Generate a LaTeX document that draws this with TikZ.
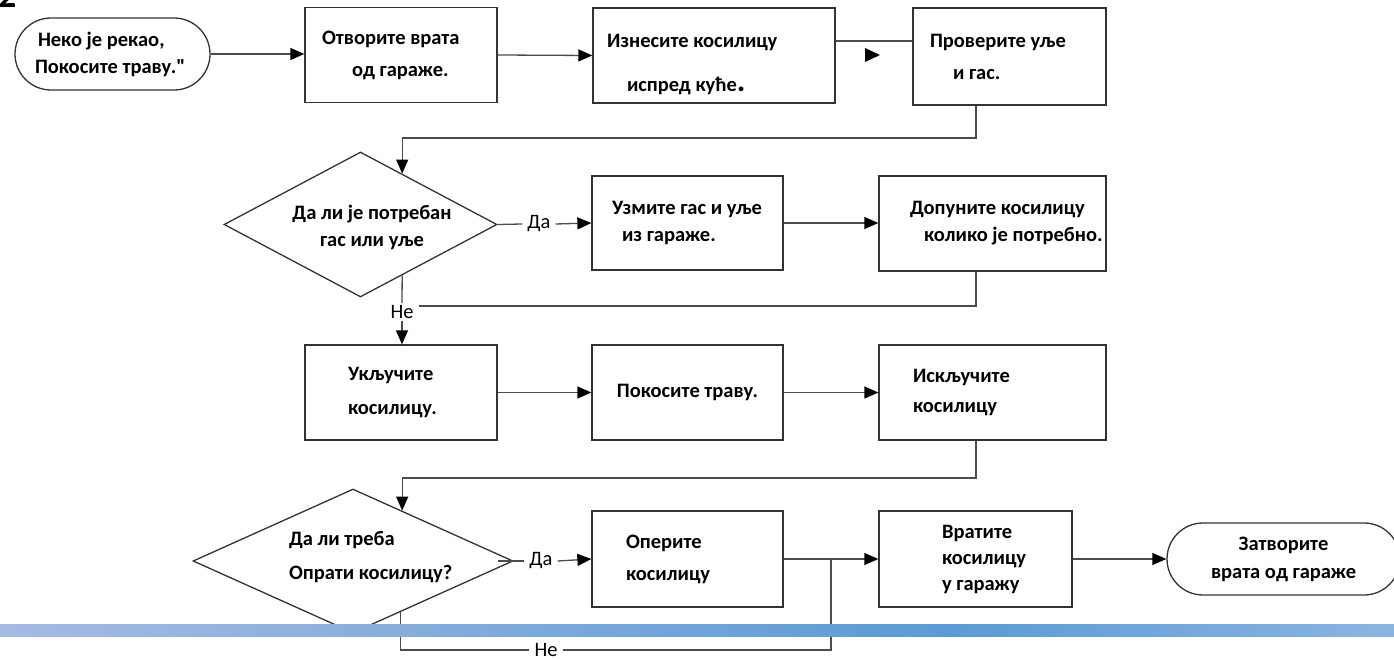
\documentclass[tikz,border=0pt]{standalone}
\usepackage{fontspec}
\setmainfont{Carlito}
\usepackage{tikz}
\usetikzlibrary{arrows.meta,shapes.geometric,calc,positioning}
\definecolor{barL}{RGB}{166,187,226}
\definecolor{barM}{RGB}{91,155,213}
\definecolor{barR}{RGB}{140,180,225}

\begin{document}
\begin{tikzpicture}[x=1pt,y=-1pt,
  font=\fontsize{20.5}{27}\selectfont,
  korak/.style={rectangle, draw=black!80, line width=1.3pt, minimum height=95pt, inner sep=0pt,
    font=\fontsize{20.5}{27}\selectfont\bfseries, align=flush left},
  kraj/.style={rectangle, rounded corners=36pt, draw=black!80, line width=1.3pt, minimum height=72pt,
    inner sep=0pt, font=\fontsize{20.5}{27}\selectfont\bfseries, align=center},
  odluka/.style={diamond, draw=black!80, line width=1.3pt, inner sep=0pt},
  natpis/.style={font=\fontsize{20.5}{27}\selectfont\bfseries, inner sep=0pt},
  oznaka/.style={font=\fontsize{20.5}{24}\selectfont, inner xsep=5pt, inner ysep=2pt},
  veza/.style={draw=black!70, line width=1.3pt},
  strel/.style={veza, -{Triangle[length=14pt,width=12pt,color=black]}}]
\useasboundingbox (0,0) rectangle (1394,660);

\node[anchor=base west, inner sep=0pt, font=\fontsize{36}{36}\selectfont\bfseries] (broj) at (-2,8) {2};

% prvi red
\node[kraj, minimum width=195pt, text width=155pt, align=flush left] (poc) at (112.5,54) {\mbox{\hspace*{3pt}Неко је рекао,}\\\mbox{Покосите траву.\textquotedbl}};
\node[korak, minimum width=192pt, text width=158pt] (b1) at (401,55) {\mbox{Отворите врата}\\[5pt]\mbox{\hspace*{30pt}од гараже.}};
\node[korak, minimum width=242pt, text width=214pt] (b2) at (714,55.5) {\rule{0pt}{31pt}\mbox{Изнесите косилицу}\\[17pt]\mbox{\hspace*{20pt}испред куће{\fontsize{32}{27}\selectfont.}}};
\node[korak, minimum width=193pt, minimum height=97pt, text width=159pt] (b3) at (1009.5,56.5) {\mbox{Проверите уље}\\[5pt]\mbox{\hspace*{23pt}и гас.}};

% drugi red
\node[odluka, minimum width=273pt, minimum height=145pt] (d1) at (360.5,224.5) {};
\node[natpis, align=center] (d1t) at (372,227.5) {Да ли је потребан\\гас или уље};
\node[oznaka] (da1) at (539,224) {Да};
\node[korak, minimum width=191pt, minimum height=94pt, text width=151pt] (b4) at (687.5,223) {\mbox{Узмите гас и уље}\\\mbox{\hspace*{10pt}из гараже.}};
\node[korak, minimum width=227pt, text width=165pt] (b5) at (992.5,223.5) {\mbox{Допуните косилицу}\\\mbox{\hspace*{14pt}колико је потребно.}};
\node[oznaka] (ne1) at (402,312) {Не};

% treci red
\node[korak, minimum width=192pt, text width=106pt] (b6) at (401,392.5) {\mbox{Укључите}\\[7pt]\mbox{косилицу.}};
\node[korak, minimum width=191pt, align=center] (b7) at (687.5,392.5) {Покосите траву.};
\node[korak, minimum width=227pt, text width=159pt] (b8) at (992.5,392.5) {\mbox{Искључите}\\[3pt]\mbox{косилицу}};

% cetvrti red
\node[odluka, minimum width=320pt, minimum height=144pt] (d2) at (353,561) {};
\node[natpis, text width=170pt, align=flush left] (d2t) at (374,557) {\mbox{Да ли треба}\\[7pt]\mbox{Опрати косилицу?}};
\node[oznaka] (da2) at (541,561) {Да};
\node[korak, minimum width=191pt, minimum height=96pt, text width=123pt] (b9) at (687.5,559) {\mbox{Оперите}\\[5pt]\mbox{косилицу}};
\node[korak, minimum width=193pt, minimum height=96pt, text width=67pt] (b10) at (975.5,559) {\mbox{Вратите}\\[-1pt]\mbox{косилицу}\\[-1pt]\mbox{у гаражу}};
\node[kraj, minimum width=233pt] (kraj) at (1283.5,559) {Затворите\\[1pt]врата од гараже};
\node[oznaka] (ne2) at (546,650) {Не};

\coordinate (k1) at (976,138);
\coordinate (k2) at (976,306);
\coordinate (k3) at (976,478);
\coordinate (k4) at ($(b9.east)!0.5!(b10.west)$);

\draw[strel] (poc.east) -- (poc.east -| b1.west);
\draw[strel] (b1.east) -- (b2.west);
\draw[veza] ([yshift=14.5pt]b2.east) -- ([yshift=14.5pt]b2.east -| b3.west);
\fill[black] (865,48) -- (880,55) -- (865,62) -- cycle;
\draw[strel] (k1 |- b3.south) -- (k1) -| ($(d1.north)!0.304!(d1.east)$);

\draw[veza] (d1.east) -- (da1.west);
\draw[strel] (da1.east) -- (b4.west);
\draw[strel] (b4.east) -- (b4.east -| b5.west);
\draw[veza] (k2 |- b5.south) -- (k2) -- (k2 -| ne1.east);
\draw[veza] ($(d1.south)!0.304!(d1.east)$) -- (ne1.north);
\draw[strel] (ne1.south) -- (ne1.south |- b6.north);

\draw[strel] (b6.east) -- (b7.west);
\draw[strel] (b7.east) -- (b8.west);
\draw[strel] (k3 |- b8.south) -- (k3) -| ($(d2.north)!0.306!(d2.east)$);

\draw[veza] ($(d2.east)+(-16,0)$) -- (da2.west);
\draw[strel] (da2.east) -- (b9.west);
\draw[strel] (b9.east) -- (b10.west);
\draw[veza] ($(d2.south)!0.294!(d2.east)$) |- (ne2.west);
\draw[veza] (ne2.east) -| (k4);
\draw[strel] (b10.east) -- (kraj.west);

% traka
\shade[left color=barL, right color=barM] (0,624) rectangle (950,636);
\shade[left color=barM, right color=barR] (950,624) rectangle (1394,636);
\end{tikzpicture}
\end{document}
